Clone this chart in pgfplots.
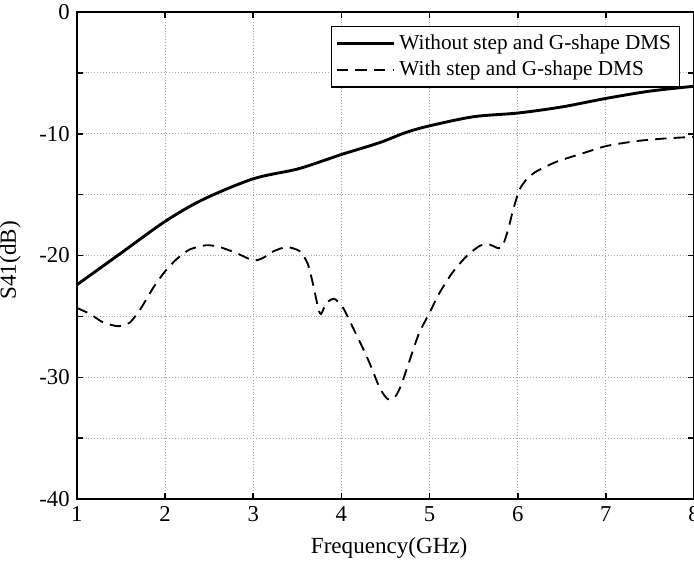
\documentclass[border=0pt]{standalone}
\usepackage{fontspec}
\setmainfont{Liberation Serif}
\usepackage{pgfplots}
\pgfplotsset{compat=1.18}
\usetikzlibrary{calc}

\begin{document}
\begin{tikzpicture}
\begin{axis}[
  scale only axis,
  width=299.3pt,
  height=236.3pt,
  xmin=1, xmax=8,
  ymin=-40, ymax=0,
  xtick={1,2,3,4,5,6,7,8},
  xticklabels={1,2,3,4,5,6,7,8},
  ytick={-40,-35,-30,-25,-20,-15,-10,-5,0},
  yticklabels={-40,,-30,,-20,,-10,,0},
  tick align=inside,
  major tick length=3pt,
  tick style={black, line width=0.8pt},
  axis line style={line width=1pt},
  grid=major,
  grid style={gray!70, densely dotted, line width=0.5pt},
  ticklabel style={font=\fontsize{11}{13}\selectfont},
  label style={font=\fontsize{11.2}{13}\selectfont},
  xlabel={Frequency(GHz)},
  ylabel={S41(dB)},
  xlabel style={at={(axis description cs:0.506,-0.1)}, anchor=center},
  ylabel style={at={(axis description cs:-0.108,0.49)}, anchor=center},
  legend style={at={(axis description cs:0.977,0.971)}, anchor=north east,
    draw=black, line width=0.5pt, fill=white, inner sep=2pt,
    font=\fontsize{10.3}{12.6}\selectfont, cells={anchor=west}},
  legend image code/.code={\draw[#1] (0pt,0pt) -- (27.6pt,0pt);},
]
\addplot[black, line width=1.4pt, smooth] coordinates {
  (1,-22.4) (1.5,-19.8) (2,-17.2) (2.43,-15.4) (3,-13.7) (3.5,-12.9)
  (3.86,-12.05) (4,-11.7) (4.43,-10.74) (4.73,-9.9) (5,-9.35) (5.5,-8.6)
  (6,-8.3) (6.5,-7.8) (7,-7.1) (7.5,-6.5) (8,-6.1)};
\addplot[black, line width=0.9pt, dash pattern=on 5.5pt off 3.5pt, smooth, tension=0.4] coordinates {
  (1.00,-24.3) (1.15,-24.8) (1.30,-25.5) (1.47,-25.8) (1.60,-25.5) (1.72,-24.4)
  (1.87,-22.6) (2.00,-21.3) (2.13,-20.3) (2.28,-19.5) (2.47,-19.15) (2.62,-19.3)
  (2.81,-19.8) (3.00,-20.4) (3.11,-20.2) (3.23,-19.65) (3.38,-19.3) (3.53,-19.65)
  (3.62,-20.7) (3.68,-22.4) (3.74,-24.4) (3.77,-24.8) (3.83,-23.9) (3.92,-23.55)
  (4.02,-24.3) (4.13,-25.9) (4.25,-27.7) (4.33,-29.0) (4.43,-30.8) (4.50,-31.6)
  (4.55,-31.85) (4.62,-31.5) (4.68,-30.6) (4.77,-28.7) (4.88,-26.4) (5.00,-24.7)
  (5.11,-23.1) (5.26,-21.4) (5.42,-20.05) (5.57,-19.2) (5.68,-19.1) (5.78,-19.4)
  (5.83,-19.2) (5.89,-17.9) (5.95,-16.2) (6.02,-14.6) (6.10,-13.75) (6.21,-13.1)
  (6.44,-12.3) (6.74,-11.6) (7.01,-11.0) (7.35,-10.6) (7.65,-10.4) (8.00,-10.25)};
\legend{Without step and G-shape DMS, With step and G-shape DMS}
\end{axis}
\pgfresetboundingbox
\path[use as bounding box] ($(current axis.south west)+(-37.3pt,-30pt)$)
  rectangle ($(current axis.north east)+(0pt,5.8pt)$);
\end{tikzpicture}
\end{document}
